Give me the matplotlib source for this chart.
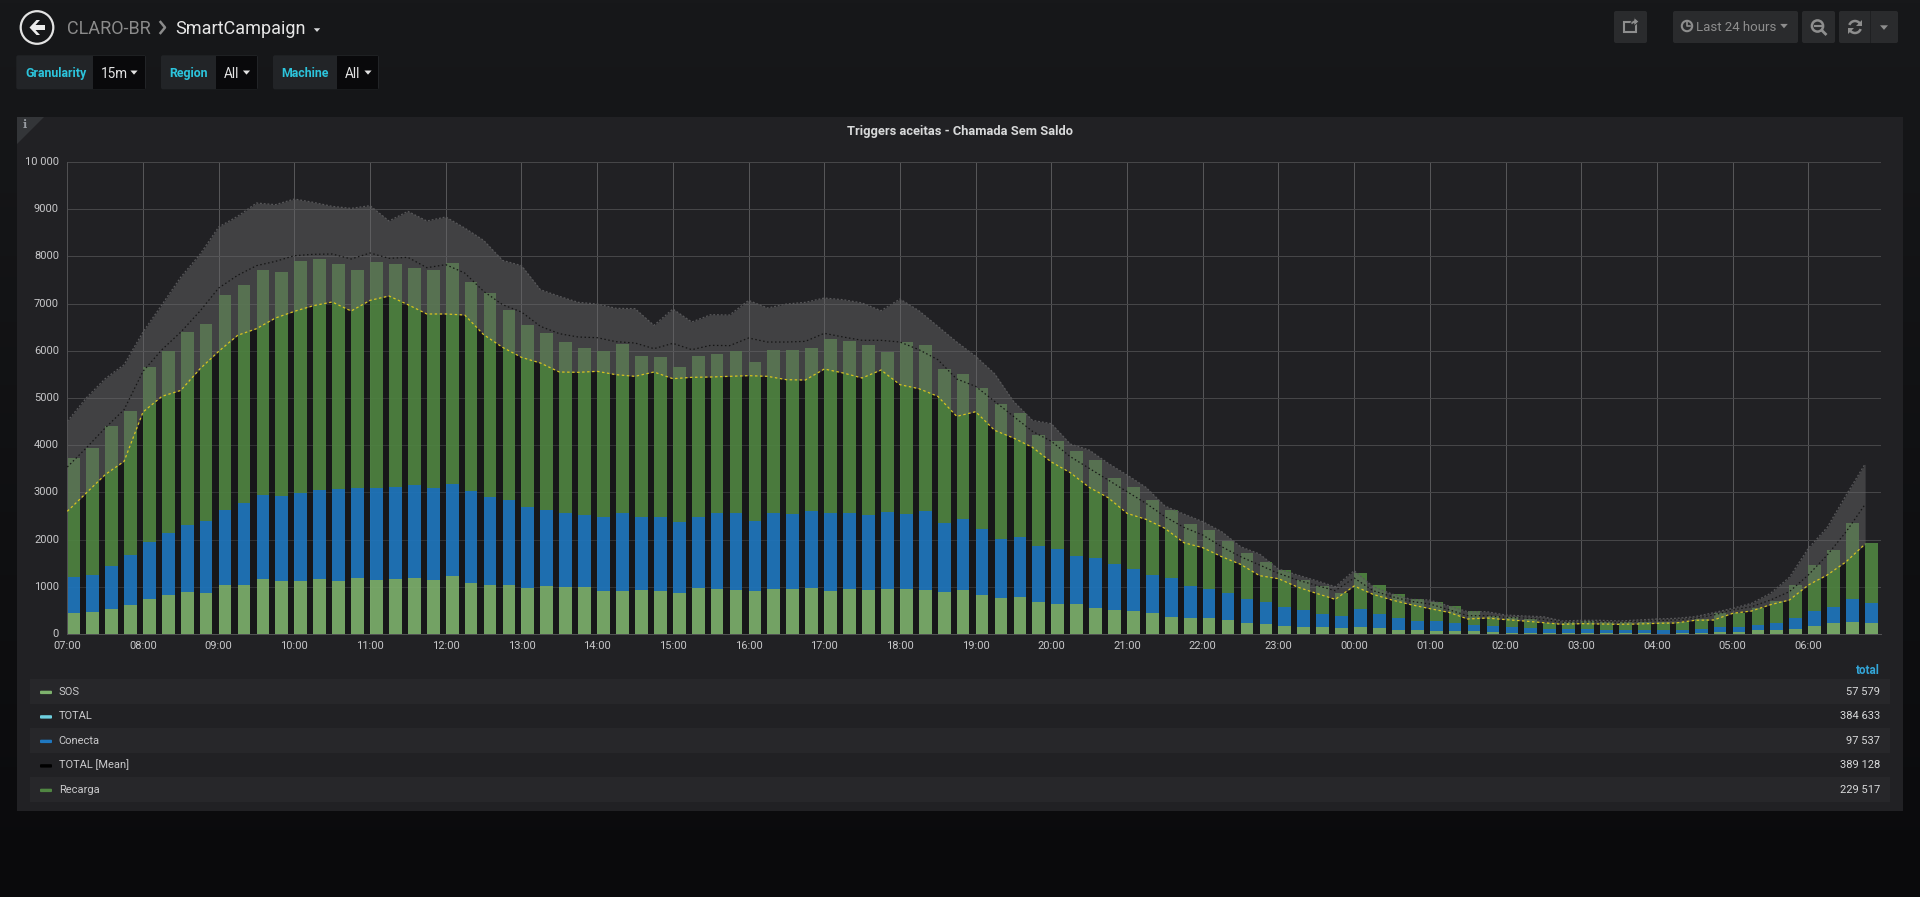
import numpy as np
import matplotlib
matplotlib.use("Agg")
import matplotlib.pyplot as plt
from matplotlib.patches import Rectangle, Circle, Polygon, FancyBboxPatch, Arc

plt.rcParams['font.family'] = ['Roboto', 'DejaVu Sans']

# ---------------- data -----------------
hours = ['07:00','08:00','09:00','10:00','11:00','12:00','13:00','14:00','15:00','16:00','17:00','18:00',
         '19:00','20:00','21:00','22:00','23:00','00:00','01:00','02:00','03:00','04:00','05:00','06:00']
y_ticks = [0,1000,2000,3000,4000,5000,6000,7000,8000,9000,10000]
y_labels = ['0','1000','2000','3000','4000','5000','6000','7000','8000','9000','10 000']

sos = [438,459,523,607,734,833,890,862,1031,1031,1172,1116,1116,1165,1116,1179,1137,1158,1193,1151,1222,1073,1045,1031,975,1024,
       996,996,918,904,932,911,862,967,946,939,904,946,946,982,918,946,932,946,953,925,883,925,819,770,784,685,629,
       636,544,516,480,438,360,346,332,297,240,219,177,155,148,120,148,127,85,78,64,64,64,42,28,28,21,
       21,21,14,14,14,7,21,21,42,42,78,78,113,177,226,261,233]
conecta = [770,784,911,1059,1208,1299,1412,1525,1596,1744,1773,1815,1878,1893,1949,1907,1949,1956,1963,1942,1956,1949,1857,1808,1709,1596,
           1568,1518,1554,1667,1540,1568,1511,1511,1610,1631,1483,1617,1603,1617,1638,1617,1596,1638,1589,1674,1476,1511,1405,1250,1264,1172,1172,
           1010,1059,960,897,805,819,678,629,565,501,452,403,360,275,261,388,290,261,198,205,169,127,120,120,106,78,
           78,85,78,71,71,71,71,78,99,106,120,155,233,318,353,487,431]
recarga = [2514,2691,2966,3065,3715,3863,4089,4181,4562,4626,4760,4746,4915,4887,4767,4633,4795,4732,4604,4626,4682,4428,4315,4018,3870,3757,
           3616,3552,3531,3580,3418,3383,3277,3418,3369,3432,3376,3446,3475,3460,3693,3651,3595,3397,3637,3531,3263,3079,2987,2853,2634,2366,2295,
           2239,2090,1822,1744,1603,1455,1314,1243,1102,982,862,784,621,593,480,763,614,501,459,410,353,290,219,205,177,141,
           162,169,162,169,169,177,169,212,297,304,360,473,692,967,1208,1610,1271]
total_line = [2599,2987,3376,3658,4703,5035,5162,5614,5989,6328,6469,6695,6836,6956,7034,6843,7069,7161,6977,6780,6780,6758,6342,6073,5861,5741,5551,
              5544,5565,5494,5459,5551,5409,5438,5445,5459,5473,5459,5388,5381,5614,5530,5424,5593,5282,5198,5035,4611,4710,4315,4152,3955,3644,
              3418,3107,2888,2556,2429,2239,1935,1829,1638,1476,1236,1172,996,862,734,1017,840,720,621,537,459,318,339,304,275,240,
              205,219,212,205,212,226,233,290,297,438,487,621,720,1038,1250,1532,1907]
mean_line = [3538,3941,4364,4753,5565,6024,6398,6836,7330,7599,7804,7895,8015,8044,8051,7945,8072,7959,7980,7761,7825,7648,7260,6977,6822,6518,6363,
             6292,6278,6193,6165,6045,6158,6024,6116,6109,6271,6186,6186,6200,6370,6292,6222,6222,6186,6024,5812,5402,5247,4929,4611,4294,4082,
             3757,3510,3263,3015,2768,2486,2260,2097,1850,1638,1462,1285,1144,1031,918,1186,918,791,692,636,516,388,388,353,339,311,
             247,254,261,247,268,282,297,332,403,508,579,720,897,1250,1674,2168,2747]
upper_line = [4506,5000,5409,5706,6398,6977,7563,8037,8623,8849,9131,9096,9216,9145,9060,9018,9075,8750,8955,8750,8835,8602,8340,7916,7804,7295,7154,
              7027,6991,6900,6893,6539,6885,6610,6765,6758,7069,6907,6991,7027,7118,7083,7013,6850,7097,6850,6518,6186,5883,5515,4929,4527,4456,
              4025,3898,3616,3369,3107,2712,2542,2380,2168,1850,1695,1377,1250,1130,1003,1342,1003,847,734,720,593,473,473,403,381,367,
              275,290,290,275,297,318,332,367,452,544,650,862,1201,1815,2260,2945,3602]

legend_names = ['SOS', 'TOTAL', 'Conecta', 'TOTAL [Mean]', 'Recarga']
legend_totals = ['57 579', '384 633', '97 537', '389 128', '229 517']
legend_colors = ['#7eb26d', '#6ed0e0', '#1f78c1', '#000000', '#508642']
title = 'Triggers aceitas - Chamada Sem Saldo'

# ---------------- figure + page chrome (pixel coordinates) -----------------
W, H = 1920, 897
fig = plt.figure(figsize=(W/100, H/100), dpi=100)
ui = fig.add_axes([0, 0, 1, 1], zorder=0)
ui.set_xlim(0, W); ui.set_ylim(H, 0); ui.axis('off')

grad = np.linspace(0, 1, 256).reshape(-1, 1, 1)
top = np.array([0x17, 0x18, 0x1a]) / 255
bot = np.array([0x0a, 0x0a, 0x0c]) / 255
ui.imshow(top + (bot - top) * grad, extent=[0, W, H, 0], aspect='auto', zorder=0)
ui.set_xlim(0, W); ui.set_ylim(H, 0)

def rect(x0, y0, x1, y1, c, z=1, **kw):
    ui.add_patch(Rectangle((x0, y0), x1-x0, y1-y0, fc=c, ec='none', zorder=z, **kw))

def rbox(x0, y0, x1, y1, c, z=1):
    ui.add_patch(FancyBboxPatch((x0+2, y0+2), x1-x0-4, y1-y0-4, boxstyle='round,pad=2',
                                fc=c, ec='none', zorder=z))

def caret(cx, cy, c, s=4):
    ui.add_patch(Polygon([(cx-s, cy-s*0.55), (cx+s, cy-s*0.55), (cx, cy+s*0.6)], fc=c, ec='none', zorder=4))

# panel
rect(17, 117, 1903, 811, '#212124')
ui.add_patch(Polygon([(17, 117), (44, 117), (17, 144)], fc='#333538', ec='none', zorder=2))
ui.text(25, 125, 'i', color='#9a9ea4', fontsize=8, fontweight='bold', family='DejaVu Serif', ha='center', va='center', zorder=3)
ui.text(960, 135, title, color='#d8d9da', fontsize=9.3, fontweight='bold', ha='center', va='baseline', zorder=3)

# header
ui.add_patch(Circle((37, 27.5), 16.3, fc='none', ec='#e3e3e3', lw=1.6, zorder=3))
ui.add_patch(Polygon([(29.5, 27.5), (36.5, 20), (40, 20), (35.5, 25), (45, 25), (45, 30), (35.5, 30), (40, 35), (36.5, 35)],
                     fc='#ececec', ec='none', zorder=4))
ui.text(67, 33.5, 'CLARO-BR', color='#8b8b8b', fontsize=13, ha='left', va='baseline', zorder=3)
ui.plot([160.5, 165, 160.5], [22, 27.5, 33], color='#8b8b8b', lw=1.8, zorder=3)
ui.text(175.5, 33.5, 'SmartCampaign', color='#e6e6e6', fontsize=13, ha='left', va='baseline', zorder=3)
caret(317, 30, '#d8d9da', 3.2)

# variable boxes
var_boxes = [(16.3, 93, 146, 'Granularity', '15m', 25, 101, 134),
             (161, 215.5, 258, 'Region', 'All', 169.4, 224, 246.5),
             (273, 337, 379, 'Machine', 'All', 281.6, 345, 368)]
for x0, xm, x1, lab, val, xl, xv, xc in var_boxes:
    rbox(x0, 55.3, x1, 89.3, '#222427', 1)
    rect(xm, 55.8, x1-1, 88.8, '#09090b', 2)
    ui.text(xl, 76.8, lab, color='#2cc4dc', fontsize=8.9, fontweight='bold', ha='left', va='baseline', zorder=3)
    ui.text(xv, 77.5, val, color='#e3e3e3', fontsize=9.8, ha='left', va='baseline', zorder=3)
    caret(xc, 72.5, '#e3e3e3', 3.6)

# toolbar
btn = '#2a2b2d'; ic = '#8e8e8e'
rbox(1614, 11, 1647, 43, btn); rbox(1673, 11, 1798, 43, btn)
rbox(1802, 11, 1835, 43, btn); rbox(1839, 11, 1898, 43, btn)
rect(1870, 11, 1871, 43, '#1f2022', 2)
# share icon
ui.add_patch(Rectangle((1624, 22), 12, 10, fc='none', ec=ic, lw=1.5, zorder=3))
ui.add_patch(Polygon([(1631, 25), (1631, 22), (1634, 20), (1634, 17.5), (1639, 21.5), (1634, 26), (1634, 23.5)], fc=ic, ec=btn, lw=0.6, zorder=4))
# clock
ui.add_patch(Circle((1687, 26), 5.2, fc='none', ec=ic, lw=1.5, zorder=3))
ui.plot([1687, 1687, 1690], [22.5, 26.5, 26.5], color=ic, lw=1.2, zorder=3)
ui.text(1696.5, 31, 'Last 24 hours', color=ic, fontsize=9.5, ha='left', va='baseline', zorder=3)
caret(1784, 26, ic, 3.8)
# zoom out
ui.add_patch(Circle((1817.5, 26), 5.6, fc='none', ec=ic, lw=1.8, zorder=3))
ui.plot([1822, 1825.5], [30.5, 34], color=ic, lw=2, zorder=3)
ui.plot([1814.5, 1820.5], [26, 26], color=ic, lw=1.5, zorder=3)
# refresh
ui.add_patch(Arc((1855, 27), 12, 12, theta1=200, theta2=340, ec=ic, lw=1.8, zorder=3))
ui.add_patch(Arc((1855, 27), 12, 12, theta1=20, theta2=160, ec=ic, lw=1.8, zorder=3))
ui.add_patch(Polygon([(1862, 20), (1862, 26), (1856, 26)], fc=ic, ec='none', zorder=4))
ui.add_patch(Polygon([(1848, 34), (1848, 28), (1854, 28)], fc=ic, ec='none', zorder=4))
caret(1884, 27.5, ic, 4)

# legend table
row_edges = [679, 704, 728, 753, 777, 802]
ui.text(1880, 673.5, 'total', color='#33a6d8', fontsize=8.4, fontweight='bold', ha='right', va='baseline', zorder=3)
for i, (n, t, c) in enumerate(zip(legend_names, legend_totals, legend_colors)):
    y0, y1 = row_edges[i], row_edges[i+1]
    if i % 2 == 0:
        rect(30, y0, 1890, y1, '#27272a', 2)
    yc = (y0 + y1) / 2
    ui.add_patch(FancyBboxPatch((41, yc+0.2), 10, 1.4, boxstyle='round,pad=1', fc=c, ec='none', zorder=3))
    ui.text(58.7, yc+3.2, n, color='#c9c9cb', fontsize=8.0, ha='left', va='baseline', zorder=3)
    ui.text(1880, yc+3.2, t, color='#d8d9da', fontsize=8.0, ha='right', va='baseline', zorder=3)

# ---------------- chart -----------------
L, R, T, B = 67.3, 1881, 162, 634
ax = fig.add_axes([L/W, 1-B/H, (R-L)/W, (B-T)/H], zorder=1)
ax.patch.set_alpha(0)
x = np.arange(len(sos)) * 0.25
s = np.array(sos, float); c = np.array(conecta, float); r = np.array(recarga, float)
bw = 0.168
ax.fill_between(x, 0, total_line, color='black', alpha=0.3, lw=0, zorder=1.5)
ax.bar(x, s, bw, align='edge', color='#7eb26d', alpha=0.9, lw=0, zorder=2)
ax.bar(x, c, bw, bottom=s, align='edge', color='#1f78c1', alpha=0.9, lw=0, zorder=2)
ax.bar(x, r, bw, bottom=s+c, align='edge', color='#508642', alpha=0.9, lw=0, zorder=2)
ax.fill_between(x, total_line, upper_line, color='#666668', alpha=0.47, lw=0, zorder=3)
ax.plot(x, upper_line, color='#58585a', lw=0.9, ls=(0, (1.5, 1.5)), zorder=4)
ax.plot(x, mean_line, color='#161616', lw=0.9, ls=(0, (1.2, 2)), zorder=4)
ax.plot(x, total_line, color='#d6c41e', lw=0.9, ls=(0, (2, 2)), zorder=5)

ax.set_xlim(0, 23.96)
ax.set_ylim(0, 10000)
ax.set_xticks(np.arange(len(hours)))
ax.set_xticklabels(hours)
ax.set_yticks(y_ticks)
ax.set_yticklabels(y_labels)
ax.tick_params(length=0, colors='#c8c8ca', labelsize=8.0, pad=5.2)
ax.tick_params(axis='y', pad=6)
for lab in ax.get_yticklabels():
    lab.set_verticalalignment('center')
ax.grid(True, axis='x', color='#565658', lw=0.72, zorder=1)
ax.grid(True, axis='y', color='#464648', lw=0.72, zorder=1)
ax.set_axisbelow(True)
for sp in ['top', 'right']:
    ax.spines[sp].set_visible(False)
for sp in ['left', 'bottom']:
    ax.spines[sp].set_color('#505052')
    ax.spines[sp].set_linewidth(0.72)

fig.savefig('out.png', dpi=100)
